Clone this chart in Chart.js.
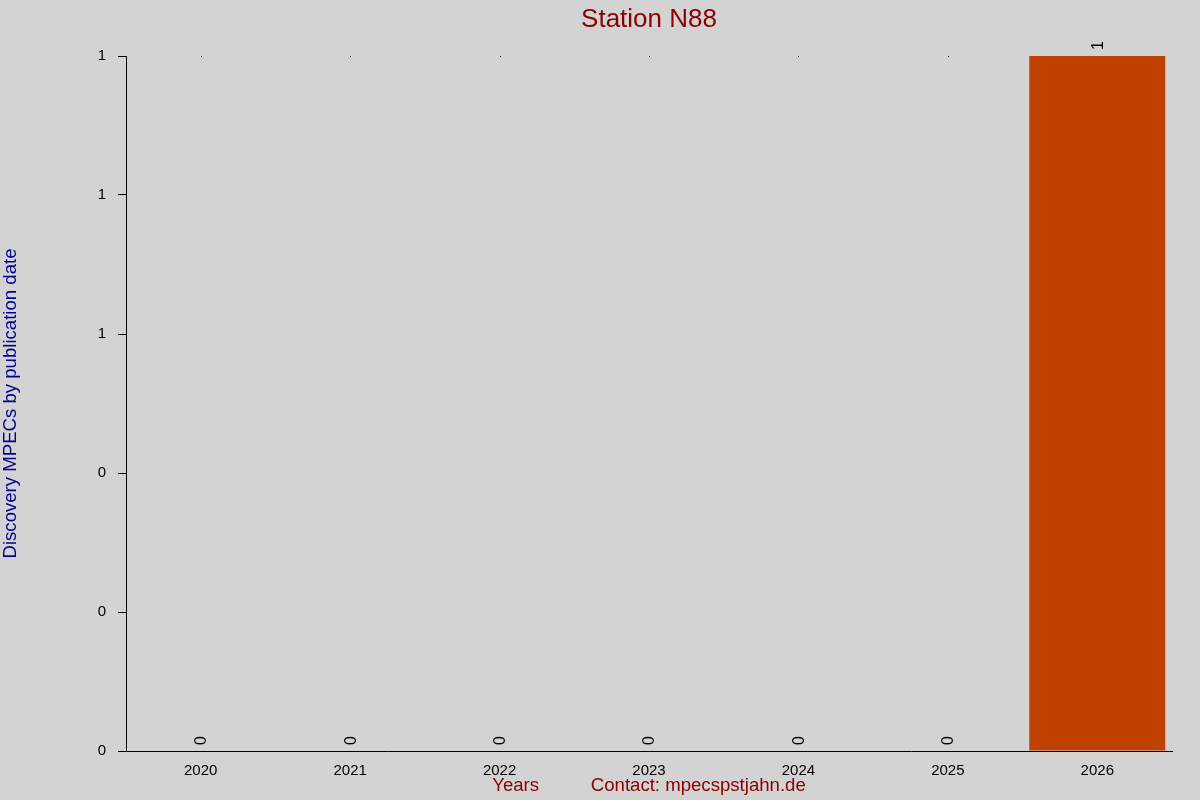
<!DOCTYPE html>
<html>
<head>
<meta charset="utf-8">
<title>Station N88</title>
<script src="https://cdn.jsdelivr.net/npm/chart.js@4/dist/chart.umd.min.js"></script>
<style>
  html, body { margin: 0; padding: 0; background: #d3d3d3; }
  #chart { display: block; }
</style>
</head>
<body>
<canvas id="chart" width="1200" height="800"></canvas>
<script>
"use strict";

const years = ['2020', '2021', '2022', '2023', '2024', '2025', '2026'];
const mpecCounts = [0, 0, 0, 0, 0, 0, 1];

const FONT = "'Liberation Sans', Arial, sans-serif";

// paints the grey page behind everything
const background = {
  id: 'background',
  beforeDraw(chart) {
    const ctx = chart.ctx;
    ctx.save();
    ctx.fillStyle = '#d3d3d3';
    ctx.fillRect(0, 0, chart.width, chart.height);
    ctx.restore();
  }
};

// rotated value labels sitting on each bar, plus the little top dots
const barLabels = {
  id: 'barLabels',
  afterDatasetsDraw(chart) {
    const ctx = chart.ctx;
    const meta = chart.getDatasetMeta(0);
    const top = chart.chartArea.top;
    ctx.save();
    ctx.font = '16px ' + FONT;
    ctx.fillStyle = '#000000';
    ctx.textAlign = 'left';
    ctx.textBaseline = 'middle';
    meta.data.forEach((bar, i) => {
      ctx.save();
      ctx.translate(bar.x + 1, bar.y - 6);
      ctx.rotate(-Math.PI / 2);
      ctx.fillText(String(mpecCounts[i]), 0, 0);
      ctx.restore();
      if (mpecCounts[i] === 0) {
        ctx.fillRect(Math.round(bar.x), top, 1, 1);
      }
    });
    ctx.restore();
  }
};

new Chart(document.getElementById('chart'), {
  type: 'bar',
  data: {
    labels: years,
    datasets: [{
      data: mpecCounts,
      backgroundColor: '#c04000',
      borderWidth: 0,
      categoryPercentage: 1,
      barPercentage: 0.91
    }]
  },
  options: {
    responsive: false,
    devicePixelRatio: 1,
    animation: false,
    layout: {
      padding: { top: 0, right: 28, bottom: 0, left: 0 }
    },
    plugins: {
      legend: { display: false },
      tooltip: { enabled: false },
      title: {
        display: true,
        fullSize: false,
        text: 'Station N88',
        color: '#8b0000',
        font: { family: FONT, size: 26, weight: 'normal' },
        padding: { top: 4.4, bottom: 20.4 }
      }
    },
    scales: {
      x: {
        grid: { display: false },
        border: { display: true, color: '#000000', width: 1 },
        ticks: {
          color: '#000000',
          font: { family: FONT, size: 15 },
          padding: 3,
          maxRotation: 0
        },
        title: {
          display: true,
          text: 'Years          Contact: mpecspstjahn.de',
          color: '#8b0000',
          font: { family: FONT, size: 18.6 },
          padding: { top: 0, bottom: 3 }
        },
        afterFit(scale) { scale.height = 49; }
      },
      y: {
        min: 0,
        max: 1,
        grid: {
          drawOnChartArea: false,
          drawTicks: true,
          tickLength: 8,
          color: '#000000'
        },
        border: { display: true, color: '#000000', width: 1 },
        ticks: {
          stepSize: 0.2,
          color: '#000000',
          font: { family: FONT, size: 15 },
          padding: 12,
          callback: (value) => Math.round(value)
        },
        title: {
          display: true,
          text: 'Discovery MPECs by publication date',
          color: '#00008b',
          font: { family: FONT, size: 18.6 },
          padding: { top: 0, bottom: 0 }
        },
        afterFit(scale) { scale.width = 126; }
      }
    }
  },
  plugins: [background, barLabels]
});
</script>
</body>
</html>
